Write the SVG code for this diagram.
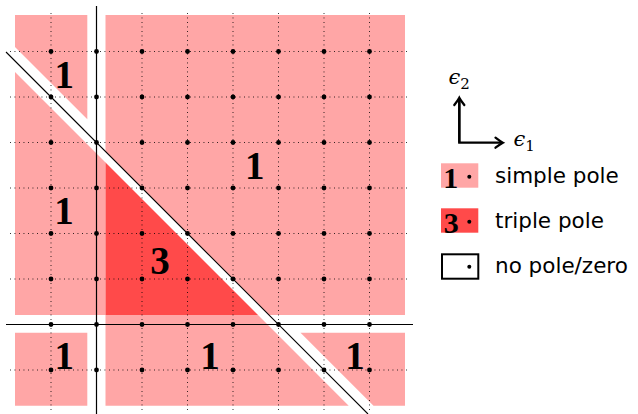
<svg xmlns="http://www.w3.org/2000/svg" width="638" height="414" viewBox="0 0 638 414">
<style>
.pk{fill:#ffa6a6}
.rd{fill:#ff4a4a}
.grid{fill:none;stroke:#000;stroke-width:0.9;stroke-dasharray:0.9 3.6}
.ax{fill:none;stroke:#000;stroke-width:1.2}
.diag{fill:none;stroke:#000;stroke-width:1.1}
.dot{fill:#000}
.num{font-family:"Liberation Serif","DejaVu Serif",serif;font-weight:bold;fill:#000;text-anchor:middle}
.big{font-size:39px}
.sm{font-size:30px}
.lt{font-family:"DejaVu Sans","Liberation Sans",sans-serif;font-size:21.5px;fill:#000}
.eps{font-family:"DejaVu Serif",serif;font-style:italic;font-size:21px;fill:#000}
.sub{font-family:"DejaVu Serif",serif;font-style:normal;font-size:15px}
.arr{fill:none;stroke:#000;stroke-width:2.3}
</style>
<defs>
<marker id="ah" markerUnits="userSpaceOnUse" markerWidth="20" markerHeight="20" refX="0" refY="0" orient="auto" overflow="visible">
<path d="M -6.5 -5 Q -2 -1.5 0.8 0 Q -2 1.5 -6.5 5" fill="none" stroke="#000" stroke-width="2.3" stroke-linecap="round"/>
</marker>
<circle id="d" r="2.4"/>
</defs>

<g id="regions">
<polygon id="regA" class="pk" points="15,15 87.3,15 87.3,119.3 15,47"/>
<polygon id="regB" class="pk" points="15,72 105.5,162.5 105.5,315 15,315"/>
<polygon id="regC" class="pk" points="105.5,15 405,15 405,315 269,315 105.5,151.5"/>
<polygon id="regT" class="rd" points="105.5,162.5 105.5,315 258,315"/>
<polygon id="regD" class="pk" points="15,332.7 87.3,332.7 87.3,405.7 15,405.7"/>
<polygon id="regE" class="pk" points="105.5,315 258,315 348.7,405.7 105.5,405.7"/>
<polygon id="regF" class="pk" points="300.5,332.7 405,332.7 405,405.7 373.5,405.7"/>
</g>

<g id="grid">
<path class="grid" d="M51 13V410 M96.5 13V410 M142 13V410 M187.5 13V410 M233 13V410 M278.5 13V410 M324 13V410 M369.5 13V410
M10 51.5H407 M10 97H407 M10 142.5H407 M10 188H407 M10 233.5H407 M10 279H407 M10 324.5H407 M10 370H407"/>
</g>

<g id="axes">
<line class="ax" x1="96.5" y1="6" x2="96.5" y2="414"/>
<line class="ax" x1="6" y1="324.5" x2="413" y2="324.5"/>
</g>

<g id="connectors">
<line class="diag" x1="6" y1="52" x2="368" y2="414"/>
</g>

<g id="dots" class="dot">
<use href="#d" x="51" y="51.5"/><use href="#d" x="96.5" y="51.5"/><use href="#d" x="142" y="51.5"/><use href="#d" x="187.5" y="51.5"/><use href="#d" x="233" y="51.5"/><use href="#d" x="278.5" y="51.5"/><use href="#d" x="324" y="51.5"/><use href="#d" x="369.5" y="51.5"/>
<use href="#d" x="51" y="97"/><use href="#d" x="96.5" y="97"/><use href="#d" x="142" y="97"/><use href="#d" x="187.5" y="97"/><use href="#d" x="233" y="97"/><use href="#d" x="278.5" y="97"/><use href="#d" x="324" y="97"/><use href="#d" x="369.5" y="97"/>
<use href="#d" x="51" y="142.5"/><use href="#d" x="96.5" y="142.5"/><use href="#d" x="142" y="142.5"/><use href="#d" x="187.5" y="142.5"/><use href="#d" x="233" y="142.5"/><use href="#d" x="278.5" y="142.5"/><use href="#d" x="324" y="142.5"/><use href="#d" x="369.5" y="142.5"/>
<use href="#d" x="51" y="188"/><use href="#d" x="96.5" y="188"/><use href="#d" x="142" y="188"/><use href="#d" x="187.5" y="188"/><use href="#d" x="233" y="188"/><use href="#d" x="278.5" y="188"/><use href="#d" x="324" y="188"/><use href="#d" x="369.5" y="188"/>
<use href="#d" x="51" y="233.5"/><use href="#d" x="96.5" y="233.5"/><use href="#d" x="142" y="233.5"/><use href="#d" x="187.5" y="233.5"/><use href="#d" x="233" y="233.5"/><use href="#d" x="278.5" y="233.5"/><use href="#d" x="324" y="233.5"/><use href="#d" x="369.5" y="233.5"/>
<use href="#d" x="51" y="279"/><use href="#d" x="96.5" y="279"/><use href="#d" x="142" y="279"/><use href="#d" x="187.5" y="279"/><use href="#d" x="233" y="279"/><use href="#d" x="278.5" y="279"/><use href="#d" x="324" y="279"/><use href="#d" x="369.5" y="279"/>
<use href="#d" x="51" y="324.5"/><use href="#d" x="96.5" y="324.5"/><use href="#d" x="142" y="324.5"/><use href="#d" x="187.5" y="324.5"/><use href="#d" x="233" y="324.5"/><use href="#d" x="278.5" y="324.5"/><use href="#d" x="324" y="324.5"/><use href="#d" x="369.5" y="324.5"/>
<use href="#d" x="51" y="370"/><use href="#d" x="96.5" y="370"/><use href="#d" x="142" y="370"/><use href="#d" x="187.5" y="370"/><use href="#d" x="233" y="370"/><use href="#d" x="278.5" y="370"/><use href="#d" x="324" y="370"/><use href="#d" x="369.5" y="370"/>
</g>

<g id="labels">
<text class="num big" x="64.3" y="88.3">1</text>
<text class="num big" x="64" y="223.5">1</text>
<text class="num big" x="254.7" y="179.3">1</text>
<text class="num big" x="160" y="274">3</text>
<text class="num big" x="64.3" y="369">1</text>
<text class="num big" x="210" y="369">1</text>
<text class="num big" x="355" y="369">1</text>
</g>

<g id="legend">
<g id="axes-key">
<path class="arr" d="M459.3 98.5 V142.7 H502" marker-end="url(#ah)"/>
<path class="arr" d="M459.3 142.7 V98.5" marker-end="url(#ah)"/>
<text class="eps" x="448.5" y="83.5">ϵ<tspan class="sub" dy="5">2</tspan></text>
<text class="eps" x="513.5" y="146">ϵ<tspan class="sub" dy="4.5">1</tspan></text>
</g>
<g id="key-simple">
<rect class="pk" x="441" y="163.3" width="37.3" height="24.4"/>
<text class="num sm" x="450.8" y="187.7">1</text>
<circle cx="469.3" cy="176.7" r="2"/>
<text class="lt" x="495" y="183.3">simple pole</text>
</g>
<g id="key-triple">
<rect class="rd" x="441" y="208.3" width="37.3" height="24.4"/>
<text class="num sm" x="451.3" y="232.5">3</text>
<circle cx="469.3" cy="221.7" r="2"/>
<text class="lt" x="495" y="228.3">triple pole</text>
</g>
<g id="key-none">
<rect x="442" y="254.3" width="36.3" height="24.4" fill="#fff" stroke="#000" stroke-width="2"/>
<circle cx="469.3" cy="266.7" r="2"/>
<text class="lt" x="495" y="273.3">no pole/zero</text>
</g>
</g>
</svg>
